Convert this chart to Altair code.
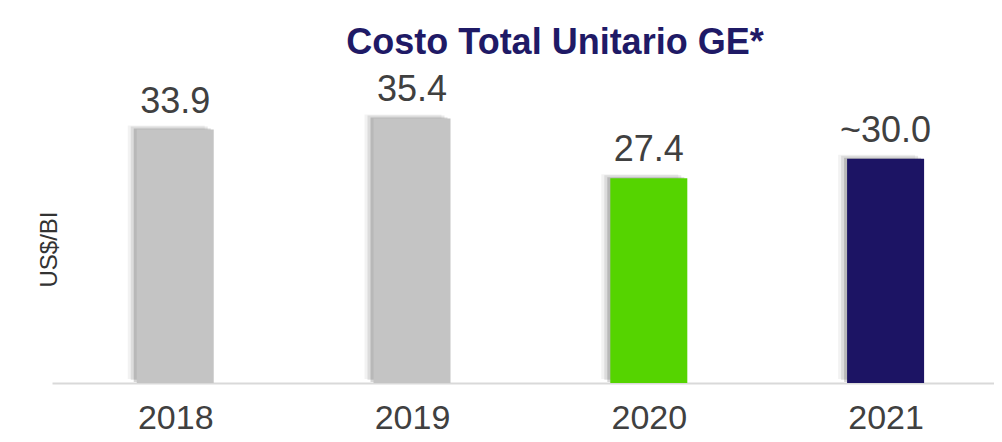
import altair as alt
import pandas as pd

years = [2018, 2019, 2020, 2021]
values = [33.9, 35.4, 27.4, 30.0]
labels = ["33.9", "35.4", "27.4", "~30.0"]

df = pd.DataFrame({"year": years, "value": values, "label": labels})

FONT = "Liberation Sans"

x_enc = alt.X(
    "year:Q",
    scale=alt.Scale(domain=[2017.5007, 2021.4367], zero=False, nice=False),
    axis=alt.Axis(
        values=years, format="d", title=None, grid=False, ticks=False, tickSize=0,
        labelFontSize=34, labelFont=FONT, labelColor="#404040",
        labelBaseline="alphabetic", labelPadding=45,
        domainColor="#d9d9d9", domainWidth=2,
    ),
)
y_enc = alt.Y(
    "value:Q",
    scale=alt.Scale(domain=[0, 40], nice=False),
    axis=alt.Axis(
        title="US$/BI", labels=False, ticks=False, grid=False, domain=False,
        titleFont=FONT, titleFontSize=24, titleFontWeight="normal", titleColor="#333333",
        titleAngle=-90, titleX=-3, titleY=165, titleAlign="center", titleBaseline="middle",
    ),
)

base = alt.Chart(df)

shadows = [
    base.mark_bar(size=77, color="black", opacity=op, xOffset=dx, yOffset=dy).encode(x=x_enc, y=y_enc)
    for op, dx, dy in [(0.05, -9, -4), (0.09, -6, -3), (0.16, -3, -1)]
]

bars = base.mark_bar(size=77).encode(
    x=x_enc,
    y=y_enc,
    color=alt.Color(
        "year:N",
        scale=alt.Scale(domain=years, range=["#c4c4c4", "#c4c4c4", "#55d400", "#1c1464"]),
        legend=None,
    ),
)

text = base.mark_text(
    font=FONT, fontSize=36, color="#404040", baseline="alphabetic", align="center", dy=-17
).encode(x=x_enc, y=y_enc, text="label:N")

chart = alt.layer(*shadows, bars, text).properties(
    width=942,
    height=299,
    autosize=alt.AutoSizeParams(type="none"),
    padding={"left": 44, "top": 76, "right": 0, "bottom": 51},
    title=alt.TitleParams(
        "Costo Total Unitario GE*", font=FONT, fontSize=36, fontWeight="bold",
        color="#1f1a66", anchor="middle", frame="group", dx=32, offset=10,
    ),
).configure_view(stroke=None)

chart.save("out.html", embed_options={"renderer": "svg", "actions": False})
